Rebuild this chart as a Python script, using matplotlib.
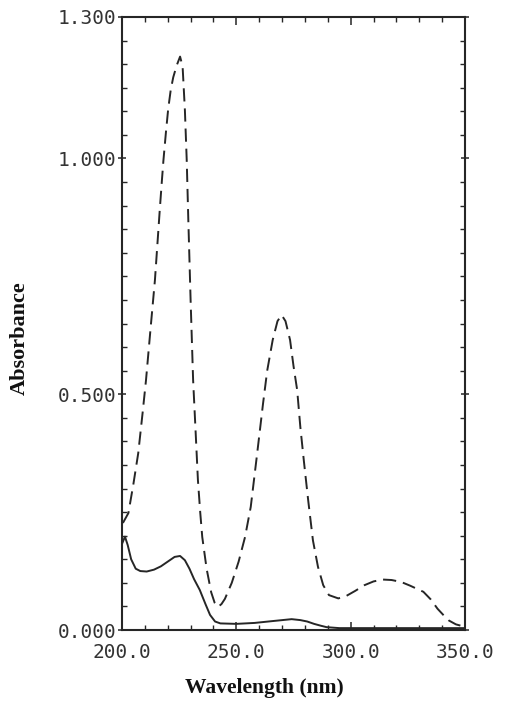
import matplotlib
matplotlib.use("Agg")
import matplotlib.pyplot as plt
from matplotlib.ticker import MultipleLocator, FixedLocator

# ---- data ----
dashed_wl = [200.4, 202.8, 205.0, 207.1, 209.0, 210.5, 212.5, 214.4, 216.5, 217.4,
             218.1, 219.2, 220.2, 221.3, 222.4, 223.9, 225.4, 226.5, 227.5, 228.3,
             229.0, 230.0, 231.1, 232.2, 233.2, 234.2, 235.1, 237.0, 239.0, 240.5,
             242.0, 243.5, 245.0, 248.0, 251.0, 253.8, 256.3, 259.0, 261.7, 263.5,
             265.9, 268.0, 269.8, 271.5, 273.5, 275.0, 276.6, 278.0, 279.5, 281.4,
             283.5, 285.7, 288.0, 290.5, 294.6, 298.0, 302.0, 306.0, 310.0, 314.0,
             317.9, 322.0, 326.0, 331.8, 335.0, 338.0, 340.5, 343.0, 346.0, 349.0,
             350.0]
dashed_abs = [0.227, 0.248, 0.310, 0.375, 0.460, 0.530, 0.640, 0.742, 0.890, 0.950,
              0.995, 1.055, 1.105, 1.145, 1.172, 1.197, 1.216, 1.195, 1.103, 0.997,
              0.870, 0.700, 0.530, 0.420, 0.318, 0.250, 0.197, 0.130, 0.080, 0.058,
              0.049, 0.055, 0.066, 0.100, 0.145, 0.197, 0.261, 0.370, 0.481, 0.550,
              0.615, 0.655, 0.668, 0.655, 0.615, 0.560, 0.509, 0.430, 0.360, 0.276,
              0.190, 0.134, 0.095, 0.074, 0.067, 0.072, 0.083, 0.095, 0.103, 0.107,
              0.106, 0.102, 0.094, 0.081, 0.065, 0.045, 0.032, 0.020, 0.012, 0.008,
              0.007]

solid_wl = [200.2, 201.3, 202.5, 204.0, 206.0, 208.0, 210.8, 214.0, 217.0, 220.0,
            223.0, 225.4, 227.5, 229.5, 231.5, 234.0, 236.5, 238.5, 240.7, 243.0,
            250.0, 258.0, 266.0, 274.2, 278.0, 281.0, 284.0, 287.0, 289.5, 295.0,
            350.0]
solid_abs = [0.185, 0.198, 0.180, 0.150, 0.130, 0.125, 0.124, 0.128, 0.135, 0.145,
             0.155, 0.157, 0.148, 0.130, 0.108, 0.085, 0.055, 0.032, 0.018, 0.014,
             0.013, 0.015, 0.019, 0.023, 0.021, 0.018, 0.013, 0.009, 0.006, 0.004,
             0.004]

x_ticks = [200, 250, 300, 350]
x_ticklabels = ["200.0", "250.0", "300.0", "350.0"]
y_ticks = [0.0, 0.5, 1.0, 1.3]
y_ticklabels = ["0.000", "0.500", "1.000", "1.300"]

# ---- figure ----
plt.rcParams["lines.scale_dashes"] = False
ink = "#262626"
fig = plt.figure(figsize=(5.12, 7.12), dpi=100)
ax = fig.add_axes([122 / 512, 82 / 712, 343 / 512, 613 / 712])

ax.plot(dashed_wl, dashed_abs, color=ink, lw=1.4, dashes=(9.5, 5))
ax.plot(solid_wl, solid_abs, color=ink, lw=1.4)

ax.set_xlim(200, 350)
ax.set_ylim(0, 1.3)

ax.xaxis.set_major_locator(FixedLocator(x_ticks))
ax.set_xticklabels(x_ticklabels)
ax.xaxis.set_minor_locator(MultipleLocator(10))
ax.yaxis.set_major_locator(FixedLocator(y_ticks))
ax.set_yticklabels(y_ticklabels)
ax.yaxis.set_minor_locator(MultipleLocator(0.05))

for s in ax.spines.values():
    s.set_linewidth(1.5)
    s.set_color(ink)

mono = "DejaVu Sans Mono"
ax.tick_params(axis="x", which="major", direction="in", length=6, width=1.1,
               top=True, bottom=True, pad=9, labelsize=14, colors=ink)
ax.tick_params(axis="x", which="minor", direction="in", length=3.5, width=1.0,
               top=True, bottom=True, colors=ink)
ax.tick_params(axis="y", which="major", direction="inout", length=6, width=1.1,
               left=True, right=True, pad=1, labelsize=14, colors=ink)
ax.tick_params(axis="y", which="minor", direction="in", length=3.5, width=1.0,
               left=True, right=True, colors=ink)
for lab in ax.get_xticklabels() + ax.get_yticklabels():
    lab.set_fontfamily(mono)
    lab.set_color("#333333")

fig.text(264 / 512, 1 - 688 / 712, "Wavelength (nm)", ha="center", va="center",
         fontsize=15.5, fontweight="bold", family="Liberation Serif", color="#111111")
fig.text(20 / 512, 1 - 338 / 712, "Absorbance", ha="center", va="center",
         rotation=90, fontsize=16, fontweight="bold", family="Liberation Serif",
         color="#111111")

fig.savefig("out.png", dpi=100)
